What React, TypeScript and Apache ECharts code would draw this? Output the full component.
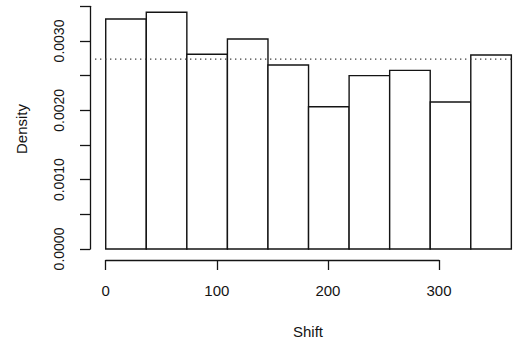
import React, { useEffect, useRef } from "react";
import * as echarts from "echarts";

// Histogram bin edges (Shift) and densities
const binEdges = [0, 36.5, 73, 109.5, 146, 182.5, 219, 255.5, 292, 328.5, 365];
const densities = [0.003317, 0.003414, 0.002808, 0.003029, 0.002654, 0.002052, 0.0025, 0.002577, 0.00212, 0.002798];
const uniformDensity = 1 / 365;

// Axis ticks / labels
const xTicks = [0, 100, 200, 300];
const yTickLabels = ["0.0000", "0.0010", "0.0020", "0.0030"];

const FONT = "Liberation Sans, Arial, Helvetica, sans-serif";
const INK = "#141414";

export default function App() {
  const ref = useRef<HTMLDivElement>(null);
  useEffect(() => {
    if (!ref.current) return;
    const chart = echarts.init(ref.current, undefined, { renderer: "svg" });

    // main plot region (R style: data range extended by 4%, cut at the page edge)
    const xMin = -14.6;
    const xMax = 367.38;
    const yMin = -0.00015866;
    const yMax = 0.0035914;

    const barData = densities.map((d, i) => [binEdges[i], binEdges[i + 1], d]);

    const option: any = {
      animation: false,
      backgroundColor: "#ffffff",
      grid: [
        { left: 89.5, top: 0, width: 424.5, height: 260, containLabel: false },
        { left: 90, top: 6.33, width: 10, height: 242.67, containLabel: false },
        { left: 105.7, top: 250, width: 333.33, height: 10, containLabel: false },
      ],
      xAxis: [
        { type: "value", gridIndex: 0, min: xMin, max: xMax, show: false },
        { type: "value", gridIndex: 1, show: false },
        {
          type: "value",
          gridIndex: 2,
          min: xTicks[0],
          max: xTicks[xTicks.length - 1],
          interval: 100,
          position: "bottom",
          axisLine: { show: true, lineStyle: { color: INK, width: 1.3 } },
          axisTick: { show: true, inside: false, length: 10, lineStyle: { color: INK, width: 1.3 } },
          axisLabel: {
            show: true,
            margin: 23,
            fontSize: 15,
            color: INK,
            fontFamily: FONT,
            formatter: (v: number) => (xTicks.includes(Math.round(v)) ? String(Math.round(v)) : ""),
          },
          splitLine: { show: false },
        },
      ],
      yAxis: [
        { type: "value", gridIndex: 0, min: yMin, max: yMax, show: false },
        {
          type: "value",
          gridIndex: 1,
          min: 0,
          max: 0.0035,
          interval: 0.0005,
          position: "left",
          axisLine: { show: true, lineStyle: { color: INK, width: 1.3 } },
          axisTick: { show: true, inside: false, length: 10, lineStyle: { color: INK, width: 1.3 } },
          axisLabel: {
            show: true,
            rotate: 90,
            margin: 24,
            fontSize: 14,
            color: INK,
            fontFamily: FONT,
            formatter: (v: number) => {
              const s = v.toFixed(4);
              return yTickLabels.includes(s) ? s : "";
            },
          },
          splitLine: { show: false },
        },
        { type: "value", gridIndex: 2, show: false },
      ],
      series: [
        {
          type: "custom",
          xAxisIndex: 0,
          yAxisIndex: 0,
          data: barData,
          clip: false,
          renderItem: (params: any, api: any) => {
            const p0 = api.coord([api.value(0), api.value(2)]);
            const p1 = api.coord([api.value(1), 0]);
            return {
              type: "rect",
              shape: { x: p0[0], y: p0[1], width: p1[0] - p0[0], height: p1[1] - p0[1] },
              style: { fill: "#ffffff", stroke: INK, lineWidth: 1.4 },
            };
          },
        },
        {
          type: "line",
          xAxisIndex: 0,
          yAxisIndex: 0,
          data: [
            [xMin + 5, uniformDensity],
            [xMax, uniformDensity],
          ],
          symbol: "none",
          silent: true,
          lineStyle: { color: "#333", width: 1.3, type: [1.3, 3.7] },
          z: 5,
        },
      ],
      graphic: [
        {
          type: "text",
          x: 21,
          y: 129,
          rotation: Math.PI / 2,
          style: {
            text: "Density",
            fontSize: 15,
            fontFamily: FONT,
            fill: INK,
            align: "center",
            verticalAlign: "middle",
          },
        },
        {
          type: "text",
          x: 308,
          y: 331,
          style: {
            text: "Shift",
            fontSize: 15,
            fontFamily: FONT,
            fill: INK,
            align: "center",
            verticalAlign: "middle",
          },
        },
      ],
    };
    chart.setOption(option);
    return () => chart.dispose();
  }, []);
  return (
    <div
      ref={ref}
      style={{ position: "fixed", left: 0, top: 0, width: 514, height: 343, background: "#fff" }}
    />
  );
}
